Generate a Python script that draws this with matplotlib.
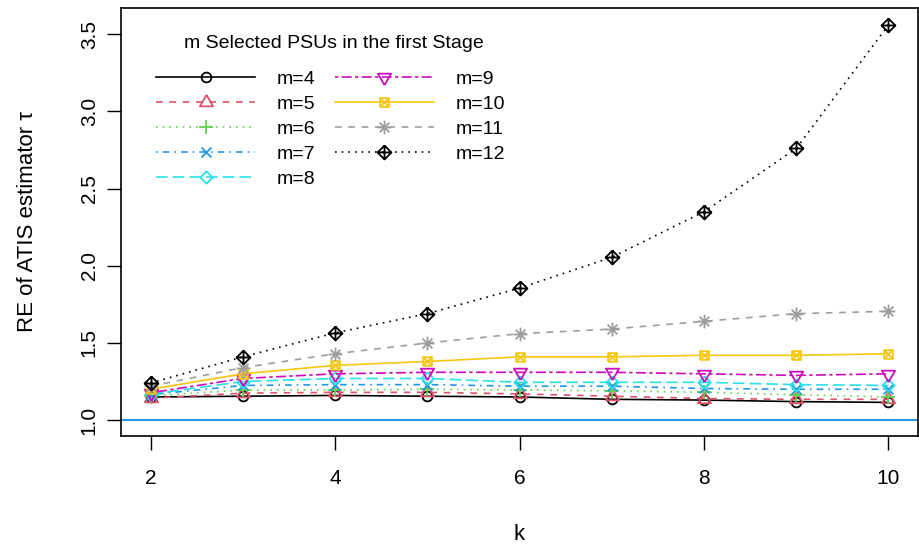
import numpy as np
import matplotlib
matplotlib.use("Agg")
import matplotlib.pyplot as plt
from matplotlib.path import Path

plt.rcParams["font.family"] = ["Liberation Sans", "DejaVu Sans"]

# data
k = [2, 3, 4, 5, 6, 7, 8, 9, 10]
m4 = [1.150, 1.155, 1.160, 1.155, 1.150, 1.135, 1.130, 1.120, 1.115]
m5 = [1.142, 1.175, 1.180, 1.180, 1.170, 1.155, 1.140, 1.135, 1.135]
m6 = [1.157, 1.195, 1.195, 1.200, 1.195, 1.190, 1.180, 1.165, 1.150]
m7 = [1.165, 1.225, 1.230, 1.230, 1.220, 1.220, 1.205, 1.200, 1.200]
m8 = [1.168, 1.250, 1.270, 1.270, 1.245, 1.245, 1.245, 1.230, 1.225]
m9 = [1.177, 1.270, 1.300, 1.310, 1.310, 1.310, 1.300, 1.290, 1.300]
m10 = [1.200, 1.300, 1.355, 1.380, 1.410, 1.410, 1.420, 1.420, 1.430]
m11 = [1.220, 1.340, 1.430, 1.500, 1.560, 1.590, 1.640, 1.690, 1.705]
m12 = [1.240, 1.410, 1.565, 1.690, 1.855, 2.055, 2.350, 2.760, 3.560]

labels = ["m=4", "m=5", "m=6", "m=7", "m=8", "m=9", "m=10", "m=11", "m=12"]
series = [m4, m5, m6, m7, m8, m9, m10, m11, m12]

# R default palette, lty and pch 1..9
cols = ["black", "#DF536B", "#61D04F", "#2297E6", "#28E2E5", "#CD0BBC",
        "#F5C710", "#9E9E9E", "black"]
ltys = ["-", (0, (4, 4)), (0, (1, 3)), (0, (1, 3, 4, 3)), (0, (7, 3)),
        (0, (2, 2, 6, 2)), "-", (0, (4, 4)), (0, (1, 3))]


def lines_path(segs):
    verts, codes = [], []
    for s in segs:
        for i, p in enumerate(s):
            verts.append(p)
            codes.append(Path.MOVETO if i == 0 else Path.LINETO)
    return Path(verts, codes)


r2 = np.sqrt(2)
t0 = 1.55512
circ = Path.unit_circle()
tri_up = lines_path([[(0, t0), (t0 * 0.866, -t0 * 0.5), (-t0 * 0.866, -t0 * 0.5), (0, t0)]])
plus = lines_path([[(-r2, 0), (r2, 0)], [(0, -r2), (0, r2)]])
cross = lines_path([[(-1, -1), (1, 1)], [(-1, 1), (1, -1)]])
d5 = 1.25331
diam = lines_path([[(0, d5), (d5, 0), (0, -d5), (-d5, 0), (0, d5)]])
tri_dn = lines_path([[(0, -t0), (t0 * 0.866, t0 * 0.5), (-t0 * 0.866, t0 * 0.5), (0, -t0)]])
s7 = 0.88623
sqx = lines_path([[(-s7, -s7), (s7, -s7), (s7, s7), (-s7, s7), (-s7, -s7)],
                  [(-s7, -s7), (s7, s7)], [(-s7, s7), (s7, -s7)]])
aster = lines_path([[(-r2, 0), (r2, 0)], [(0, -r2), (0, r2)],
                    [(-1, -1), (1, 1)], [(-1, 1), (1, -1)]])
dplus = lines_path([[(0, r2), (r2, 0), (0, -r2), (-r2, 0), (0, r2)],
                    [(-r2, 0), (r2, 0)], [(0, -r2), (0, r2)]])
marks = [circ, tri_up, plus, cross, diam, tri_dn, sqx, aster, dplus]
extent = [1.0, t0, r2, 1.0, d5, t0, s7, r2, r2]
rad_px = 4.9

fig = plt.figure(figsize=(9.19, 5.48), dpi=100)
ax = fig.add_axes([121 / 919, 112 / 548, 797 / 919, 428 / 548])

for y, lab, c, ls, mk, ex in zip(series, labels, cols, ltys, marks, extent):
    ms = 2 * ex * rad_px * 72 / 100
    ax.plot(k, y, color=c, linestyle=ls, lw=1.2, marker=mk, ms=ms,
            markerfacecolor="none", markeredgecolor=c, mew=1.3, label=lab)

ax.axhline(1.0, color="#2297E6", lw=1.5)

ax.set_xlim(1.68, 10.32)
ax.set_ylim(1.0 - 0.1027, 3.567 + 0.1027)
ax.set_xticks([2, 4, 6, 8, 10])
ax.set_yticks([1.0, 1.5, 2.0, 2.5, 3.0, 3.5])
ax.set_yticklabels(["1.0", "1.5", "2.0", "2.5", "3.0", "3.5"], rotation=90, va="center")
ax.tick_params(labelsize=15, length=10, width=1, direction="out", pad=14)
ax.tick_params(axis="y", pad=6)
for sp in ax.spines.values():
    sp.set_linewidth(1.2)

ax.set_xlabel("k", fontsize=16, labelpad=26)
ax.set_ylabel("RE of ATIS estimator \u03c4", fontsize=16, labelpad=30)

fig.text(334 / 919, 1 - 44 / 548, "m Selected PSUs in the first Stage",
         fontsize=14, ha="center", va="center")
ax.legend(ncol=2, frameon=False, fontsize=14,
          loc="upper left", bbox_to_anchor=(156 / 919, 1 - 70 / 548),
          bbox_transform=fig.transFigure, borderaxespad=0, borderpad=0,
          handlelength=5.1, handletextpad=1.1, columnspacing=1.0, labelspacing=0.38,
          numpoints=1)

fig.savefig("out.png", dpi=100)
